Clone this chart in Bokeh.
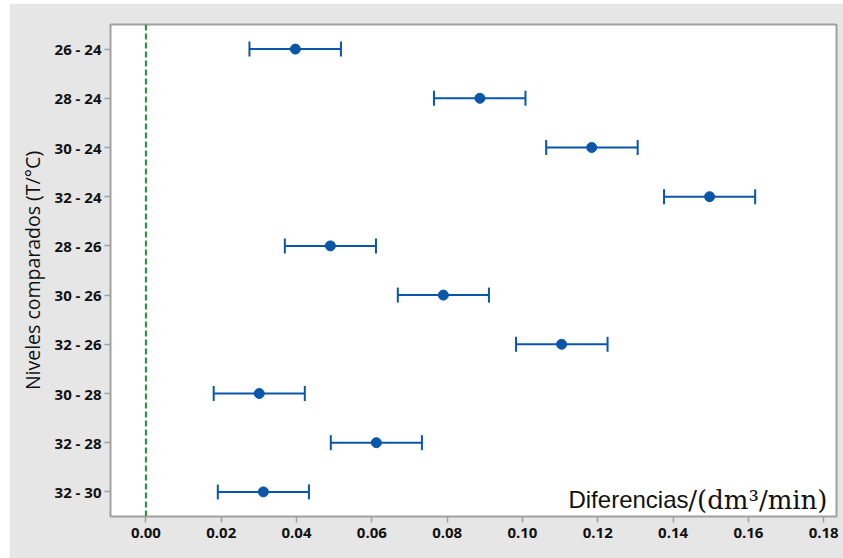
from math import pi

from bokeh.embed import file_html
from bokeh.models import FactorRange, Range1d, Span, Label, FixedTicker, NumeralTickFormatter
from bokeh.plotting import figure
from bokeh.resources import INLINE

# Pairwise temperature comparisons: mean difference with confidence interval
comparisons = ["26 - 24", "28 - 24", "30 - 24", "32 - 24", "28 - 26",
               "30 - 26", "32 - 26", "30 - 28", "32 - 28", "32 - 30"]
diff_center = [0.0397, 0.0887, 0.1184, 0.1497, 0.0490,
               0.0790, 0.1104, 0.0301, 0.0612, 0.0312]
diff_lower = [0.0275, 0.0765, 0.1063, 0.1376, 0.0369,
              0.0669, 0.0983, 0.0180, 0.0491, 0.0191]
diff_upper = [0.0518, 0.1008, 0.1306, 0.1618, 0.0611,
              0.0911, 0.1226, 0.0422, 0.0733, 0.0433]
x_ticks = [0.00, 0.02, 0.04, 0.06, 0.08, 0.10, 0.12, 0.14, 0.16, 0.18]

BLUE = "#0a56a8"
GRAY = "#a0a0a0"
PANEL = "#e6e6e6"
INK = "#111111"

p = figure(
    width=834, height=555,
    y_range=FactorRange(factors=list(reversed(comparisons)), range_padding=0),
    x_range=Range1d(-0.0094, 0.1834),
    output_backend="svg", toolbar_location=None,
    min_border_left=101, min_border_right=7,
    min_border_top=21, min_border_bottom=42,
    margin=(3, 0, 0, 9),
)
p.background_fill_color = "white"
p.border_fill_color = PANEL
p.outline_line_color = GRAY
p.outline_line_width = 2
p.grid.visible = False

# zero reference line
p.add_layout(Span(location=0, dimension="height", line_color="#1f8f3a",
                  line_width=2, line_dash="6 3"))

# interval bars, end caps and centre points
p.segment(x0=diff_lower, y0=comparisons, x1=diff_upper, y1=comparisons,
          line_color=BLUE, line_width=2)
p.scatter(x=diff_lower + diff_upper, y=comparisons + comparisons,
          marker="dash", angle=pi / 2, size=15, line_color=BLUE, line_width=2)
p.scatter(x=diff_center, y=comparisons, marker="circle", size=10,
          fill_color=BLUE, line_color=BLUE)

# axes
p.xaxis.ticker = FixedTicker(ticks=x_ticks)
p.xaxis.formatter = NumeralTickFormatter(format="0.00")
for ax in (p.xaxis[0], p.yaxis[0]):
    ax.axis_line_color = None
    ax.major_tick_line_color = GRAY
    ax.major_tick_line_width = 1.5
    ax.major_tick_out = 6
    ax.major_tick_in = 0
    ax.minor_tick_line_color = None
    ax.major_label_text_font = "Open Sans"
    ax.major_label_text_font_size = "15px"
    ax.major_label_text_font_style = "bold"
    ax.major_label_text_color = INK
p.xaxis.major_label_standoff = 5
p.yaxis.major_label_standoff = 3
p.yaxis.axis_label = "Niveles comparados (T/°C)"
p.yaxis.axis_label_text_font = "Open Sans"
p.yaxis.axis_label_text_font_size = "19.5px"
p.yaxis.axis_label_text_font_style = "normal"
p.yaxis.axis_label_text_color = INK
p.yaxis.axis_label_standoff = 6

# x-axis title drawn inside the frame, bottom right
p.add_layout(Label(x=0.1834, y=0, x_offset=-9, y_offset=17,
                   text="/(dm³/min)", text_align="right",
                   text_baseline="alphabetic", text_font="DejaVu Serif",
                   text_font_size="26px", text_color=INK))
p.add_layout(Label(x=0.1834, y=0, x_offset=-148, y_offset=17,
                   text="Diferencias", text_align="right",
                   text_baseline="alphabetic", text_font="Liberation Sans",
                   text_font_size="24px", text_color=INK))

open("out.html", "w").write(file_html(p, INLINE))
